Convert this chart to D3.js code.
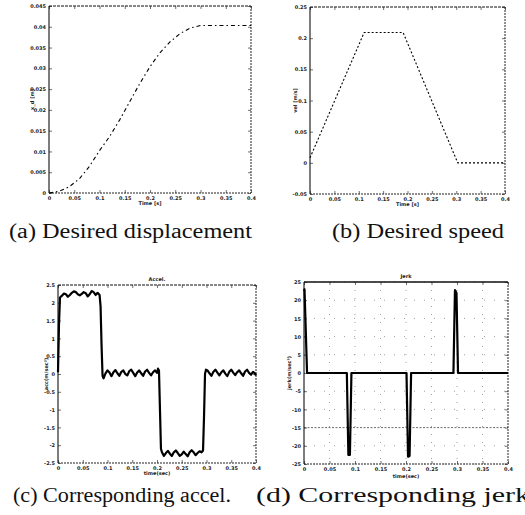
<!DOCTYPE html>
<html>
<head>
<meta charset="utf-8">
<script src="https://cdn.jsdelivr.net/npm/d3@7"></script>
<style>
  body { margin: 0; background: #fff; }
  svg { display: block; }
  .tick text { font-family: "DejaVu Sans", sans-serif; font-size: 5px; font-weight: bold; fill: #222; }
  .cap { font-family: "Liberation Serif", serif; font-size: 20px; fill: #111; }
  .lbl { font-family: "DejaVu Sans", sans-serif; font-size: 5px; font-weight: bold; fill: #222; }
</style>
</head>
<body>
<div id="chart"></div>
<script>
// (a) desired displacement [m]
const dispT = [0, 0.02, 0.04, 0.06, 0.08, 0.10, 0.12, 0.14, 0.16, 0.18, 0.20, 0.22, 0.24, 0.26, 0.28, 0.30, 0.32, 0.34, 0.36, 0.38, 0.40];
const dispV = [0, 0.0004, 0.0015, 0.0034, 0.0064, 0.0102, 0.0136, 0.0176, 0.0220, 0.0264, 0.0304, 0.0338, 0.0364, 0.0384, 0.0397, 0.0403, 0.0403, 0.0403, 0.0403, 0.0403, 0.0403];

// (b) desired speed [m/s]
const speedT = [0, 0.111, 0.191, 0.303, 0.4];
const speedV = [0.008, 0.209, 0.209, 0, 0];

// (c) accel
const accelT = [0, 0.002, 0.004, 0.008, 0.012, 0.016, 0.020, 0.024, 0.028, 0.032, 0.036, 0.040, 0.044, 0.048, 0.052, 0.056, 0.060, 0.064, 0.068, 0.072, 0.076, 0.080, 0.084, 0.086, 0.088, 0.090, 0.092, 0.096, 0.100, 0.104, 0.108, 0.112, 0.116, 0.120, 0.124, 0.128, 0.132, 0.136, 0.140, 0.144, 0.148, 0.152, 0.156, 0.160, 0.164, 0.168, 0.172, 0.176, 0.180, 0.184, 0.188, 0.192, 0.196, 0.200, 0.202, 0.204, 0.206, 0.208, 0.210, 0.214, 0.218, 0.222, 0.226, 0.230, 0.234, 0.238, 0.242, 0.246, 0.250, 0.254, 0.258, 0.262, 0.266, 0.270, 0.274, 0.278, 0.282, 0.286, 0.290, 0.293, 0.295, 0.297, 0.299, 0.302, 0.306, 0.310, 0.314, 0.318, 0.322, 0.326, 0.330, 0.334, 0.338, 0.342, 0.346, 0.350, 0.354, 0.358, 0.362, 0.366, 0.370, 0.374, 0.378, 0.382, 0.386, 0.390, 0.394, 0.398, 0.400];
const accelV = [0.05, 1.4, 2.15, 2.2, 2.26, 2.24, 2.17, 2.22, 2.28, 2.32, 2.3, 2.24, 2.21, 2.25, 2.3, 2.27, 2.18, 2.24, 2.33, 2.3, 2.22, 2.28, 2.22, 1.9, 0.8, -0.05, -0.12, 0.02, 0.1, 0.04, -0.06, 0.05, 0.11, 0.02, -0.05, 0.06, 0.1, 0.0, -0.04, 0.08, 0.12, 0.03, -0.06, 0.04, 0.1, 0.02, -0.05, 0.07, 0.12, 0.03, -0.04, 0.05, 0.1, 0.03, 0.15, 0.1, -1.0, -2.1, -2.2, -2.3, -2.22, -2.16, -2.24, -2.3, -2.2, -2.15, -2.22, -2.3, -2.26, -2.18, -2.25, -2.31, -2.2, -2.14, -2.2, -2.28, -2.22, -2.17, -2.2, -2.15, -1.2, 0.0, 0.12, 0.1, 0.02, -0.05, 0.06, 0.12, 0.04, -0.04, 0.05, 0.1, 0.01, -0.06, 0.06, 0.12, 0.04, -0.03, 0.05, 0.1, 0.02, -0.05, 0.07, 0.12, 0.03, -0.02, 0.06, 0.02, -0.04];

// (d) jerk
const jerkT = [0, 0.001, 0.006, 0.084, 0.087, 0.090, 0.093, 0.201, 0.204, 0.207, 0.210, 0.293, 0.296, 0.299, 0.302, 0.4];
const jerkV = [22.5, 23, 0, 0, -22.5, -22.5, 0, 0, -23, -22.8, 0, 0, 22.8, 22, 0, 0];

const xTicks = [0, 0.05, 0.1, 0.15, 0.2, 0.25, 0.3, 0.35, 0.4];
const xTickLabels = ["0", "0.05", "0.1", "0.15", "0.2", "0.25", "0.3", "0.35", "0.4"];

const captions = ["(a) Desired displacement", "(b) Desired speed", "(c) Corresponding accel.", "(d) Corresponding jerk"];

const svg = d3.select("#chart").append("svg")
  .attr("width", 525).attr("height", 515);

function panel(o) {
  const w = o.x1 - o.x0, h = o.y1 - o.y0;
  const g = svg.append("g").attr("transform", `translate(${o.x0},${o.y0})`);
  const x = d3.scaleLinear().domain([0, 0.4]).range([0, w]);
  const y = d3.scaleLinear().domain(o.ydom).range([h, 0]);

  // faint dotted grid (only on jerk plot)
  if (o.grid) {
    g.append("g").selectAll("line").data(o.yTicks).join("line")
      .attr("x1", 0).attr("x2", w).attr("y1", d => y(d)).attr("y2", d => y(d))
      .attr("stroke", d => d === -15 ? "#444" : "#888")
      .attr("stroke-width", 0.8)
      .attr("stroke-dasharray", d => d === -15 ? "2,1.5" : "1,9");
    g.append("g").selectAll("line").data(xTicks.slice(1, -1)).join("line")
      .attr("y1", 0).attr("y2", h).attr("x1", d => x(d)).attr("x2", d => x(d))
      .attr("stroke", "#888").attr("stroke-width", 0.8)
      .attr("stroke-dasharray", "1,7");
  }

  const bottom = d3.axisBottom(x).tickValues(xTicks)
    .tickFormat((d, i) => xTickLabels[i]).tickSize(-3).tickPadding(3);
  const left = d3.axisLeft(y).tickValues(o.yTicks)
    .tickFormat((d, i) => o.yLabels[i]).tickSize(-3).tickPadding(3);

  g.append("g").attr("transform", `translate(0,${h})`).call(bottom);
  g.append("g").call(left);
  g.append("g").call(d3.axisTop(x).tickValues(xTicks).tickSize(-3).tickFormat(""));
  g.append("g").attr("transform", `translate(${w},0)`)
    .call(d3.axisRight(y).tickValues(o.yTicks).tickSize(-3).tickFormat(""));
  g.selectAll(".domain").remove();
  g.selectAll(".tick line").attr("stroke", "#333").attr("stroke-width", 0.7);

  // box: left solid, others scan-like dashed
  g.append("line").attr("x1", 0).attr("x2", 0).attr("y1", 0).attr("y2", h)
    .attr("stroke", "#111").attr("stroke-width", 1.1);
  g.append("line").attr("x1", 0).attr("x2", w).attr("y1", 0).attr("y2", 0)
    .attr("stroke", "#111").attr("stroke-width", o.topSolid ? 1.4 : 1)
    .attr("stroke-dasharray", o.topSolid ? null : "3,1");
  g.append("line").attr("x1", 0).attr("x2", w).attr("y1", h).attr("y2", h)
    .attr("stroke", "#222").attr("stroke-width", 1).attr("stroke-dasharray", "2,1");
  g.append("line").attr("x1", w).attr("x2", w).attr("y1", 0).attr("y2", h)
    .attr("stroke", "#222").attr("stroke-width", 1).attr("stroke-dasharray", "2,1");

  const line = d3.line().x(d => x(d[0])).y(d => y(d[1]));
  g.append("path").datum(d3.zip(o.t, o.v))
    .attr("d", line).attr("fill", "none")
    .attr("stroke", "#000").attr("stroke-width", o.sw)
    .attr("stroke-linejoin", "round")
    .attr("stroke-dasharray", o.dash);

  g.append("text").attr("class", "lbl").attr("x", w / 2).attr("y", h + o.xlabDy)
    .attr("text-anchor", "middle").text(o.xlab);
  g.append("text").attr("class", "lbl")
    .attr("transform", `translate(${o.ylabDx},${h / 2}) rotate(-90)`)
    .attr("text-anchor", "middle").text(o.ylab);
  if (o.title) {
    g.append("text").attr("class", "lbl").attr("x", w / 2).attr("y", -4)
      .attr("text-anchor", "middle").text(o.title);
  }

  // caption under the panel
  svg.append("text").attr("class", "cap")
    .attr("x", o.cap[0]).attr("y", o.cap[1])
    .attr("textLength", o.cap[2]).attr("lengthAdjust", "spacingAndGlyphs")
    .text(captions[o.idx]);
}

panel({
  idx: 0, cap: [9, 238, 243],
  x0: 49, x1: 251, y0: 6, y1: 193,
  ydom: [0, 0.045],
  yTicks: [0, 0.005, 0.01, 0.015, 0.02, 0.025, 0.03, 0.035, 0.04, 0.045],
  yLabels: ["0", "0.005", "0.01", "0.015", "0.02", "0.025", "0.03", "0.035", "0.04", "0.045"],
  t: dispT, v: dispV, sw: 1.1, dash: "4,3,1.5,3",
  xlab: "Time [s]", ylab: "x_d [m]", xlabDy: 12, ylabDx: -15
});

panel({
  idx: 1, cap: [332, 238, 172],
  x0: 310, x1: 505, y0: 7, y1: 194,
  ydom: [-0.05, 0.25],
  yTicks: [-0.05, 0, 0.05, 0.1, 0.15, 0.2, 0.25],
  yLabels: ["-0.05", "0", "0.05", "0.1", "0.15", "0.2", "0.25"],
  t: speedT, v: speedV, sw: 1.1, dash: "2,2",
  xlab: "Time [s]", ylab: "vel [m/s]", xlabDy: 12, ylabDx: -13
});

panel({
  idx: 2, cap: [13, 502, 218],
  x0: 58, x1: 256, y0: 285, y1: 463,
  ydom: [-2.5, 2.5],
  yTicks: [-2.5, -2, -1.5, -1, -0.5, 0, 0.5, 1, 1.5, 2, 2.5],
  yLabels: ["-2.5", "-2", "-1.5", "-1", "-0.5", "0", "0.5", "1", "1.5", "2", "2.5"],
  t: accelT, v: accelV, sw: 2.2, dash: null,
  xlab: "time(sec)", ylab: "acc(m/sec²)", xlabDy: 12, ylabDx: -10,
  title: "Accel."
});

panel({
  idx: 3, cap: [256, 502, 274],
  x0: 304, x1: 508, y0: 282, y1: 464,
  ydom: [-25, 25],
  yTicks: [-25, -20, -15, -10, -5, 0, 5, 10, 15, 20, 25],
  yLabels: ["-25", "-20", "-15", "-10", "-5", "0", "5", "10", "15", "20", "25"],
  t: jerkT, v: jerkV, sw: 2.2, dash: null, grid: true, topSolid: true,
  xlab: "time(sec)", ylab: "jerk(m/sec³)", xlabDy: 14, ylabDx: -13,
  title: "Jerk"
});
</script>
</body>
</html>
